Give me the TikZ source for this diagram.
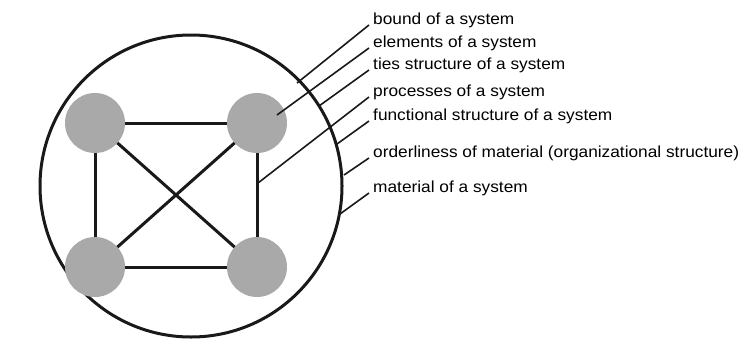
\documentclass[tikz,border=0pt]{standalone}
\usepackage{fontspec}
\newfontfamily\labfont[FakeStretch=1.08]{Liberation Sans}
\definecolor{elemgray}{RGB}{169,169,169}
\begin{document}
\begin{tikzpicture}[x=1pt,y=-1pt,
  elem/.style={circle,fill=elemgray,draw=none,minimum size=60pt,inner sep=0pt},
  tie/.style={line width=3pt,black!90},
  sysbound/.style={circle,draw=black!90,line width=3pt,minimum size=302pt,inner sep=0pt},
  lab/.style={anchor=base west,inner sep=0pt,font=\labfont\fontsize{16}{18}\selectfont},
  leader/.style={line width=1.6pt,black!90}]
\useasboundingbox (0,0) rectangle (743,356);
% system boundary
\node[sysbound] (sys) at (191,186) {};
% ties (behind elements)
\coordinate (ctl) at (95,123);
\coordinate (ctr) at (257,123);
\coordinate (cbl) at (95,267);
\coordinate (cbr) at (257,267);
\draw[tie] (ctl) -- (ctr);
\draw[tie] (cbl) -- (cbr);
\draw[tie] (ctl) -- (cbl);
\draw[tie] (ctr) -- (cbr);
\draw[tie] (ctl) -- (cbr);
\draw[tie] (ctr) -- (cbl);
% elements
\node[elem] (tl) at (ctl) {};
\node[elem] (tr) at (ctr) {};
\node[elem] (bl) at (cbl) {};
\node[elem] (br) at (cbr) {};
% labels
\node[lab] (l1) at (373,24) {bound of a system};
\node[lab] (l2) at (373,47) {elements of a system};
\node[lab] (l3) at (373,69) {ties structure of a system};
\node[lab] (l4) at (373,96) {processes of a system};
\node[lab] (l5) at (373,120) {functional structure of a system};
\node[lab] (l6) at (373,157) {orderliness of material (organizational structure)};
\node[lab] (l7) at (373,192) {material of a system};
% leader end points
\coordinate (e1) at (297,83);
\coordinate (e2) at (277,115);
\coordinate (e3) at (319,106);
\coordinate (e4) at (258,183);
\coordinate (e5) at (337,144);
\coordinate (e6) at (344,175);
\coordinate (e7) at (340,214);
\draw[leader] ([xshift=-4pt,yshift=-1pt]l1.base west) -- (e1);
\draw[leader] ([xshift=-4pt,yshift=-1pt]l2.base west) -- (e2);
\draw[leader] ([xshift=-4pt,yshift=-1pt]l3.base west) -- (e3);
\draw[leader] ([xshift=-4pt,yshift=-1pt]l4.base west) -- (e4);
\draw[leader] ([xshift=-4pt,yshift=-1pt]l5.base west) -- (e5);
\draw[leader] ([xshift=-4pt,yshift=-1pt]l6.base west) -- (e6);
\draw[leader] ([xshift=-4pt,yshift=-1pt]l7.base west) -- (e7);
\end{tikzpicture}
\end{document}
